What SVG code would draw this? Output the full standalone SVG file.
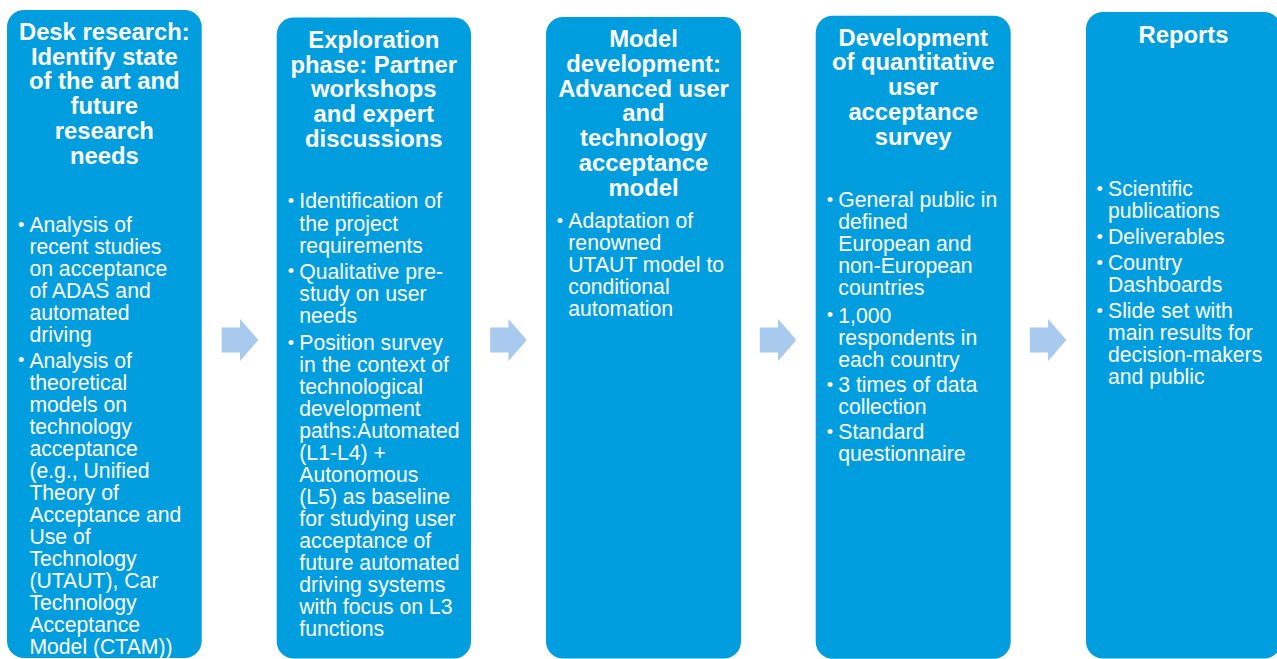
<svg xmlns="http://www.w3.org/2000/svg" xmlns:xlink="http://www.w3.org/1999/xlink" width="1277" height="659" viewBox="0 0 1277 659">
<style>
.box{fill:#019EDF}
.t{font-family:"Liberation Sans",Arial,sans-serif;font-weight:bold;font-size:23.8px;fill:#fff;text-anchor:middle}
.b{font-family:"Liberation Sans",Arial,sans-serif;font-size:21.2px;fill:#fff}
.d{font-family:"Liberation Sans",Arial,sans-serif;font-size:18px;fill:#fff}
.arr{fill:#A8CAEE}
</style>
<defs>
<polygon id="arrow" class="arr" points="0,-12.5 18.3,-12.5 18.3,-21 36.6,0 18.3,21 18.3,12.5 0,12.5"/>
</defs>
<rect width="1277" height="659" fill="#fff"/>
<g id="connectors">
<use xlink:href="#arrow" href="#arrow" x="221.7" y="340"/>
<use xlink:href="#arrow" href="#arrow" x="490.2" y="340"/>
<use xlink:href="#arrow" href="#arrow" x="759.8" y="340"/>
<use xlink:href="#arrow" href="#arrow" x="1029.8" y="340"/>
</g>
<g id="node1">
<rect class="box" x="7" y="10" width="194.7" height="648" rx="17"/>
<text class="t"><tspan x="104.3" y="40">Desk research:</tspan><tspan x="104.3" y="64.7">Identify state</tspan><tspan x="104.3" y="89.4">of the art and</tspan><tspan x="104.3" y="114.1">future</tspan><tspan x="104.3" y="138.8">research</tspan><tspan x="104.3" y="163.5">needs</tspan></text>
<text class="d"><tspan x="17.9" y="230.7">•</tspan><tspan x="17.9" y="366.4">•</tspan></text>
<text class="b"><tspan x="29.4" y="232">Analysis of</tspan><tspan x="29.4" y="254">recent studies</tspan><tspan x="29.4" y="276">on acceptance</tspan><tspan x="29.4" y="298">of ADAS and</tspan><tspan x="29.4" y="320">automated</tspan><tspan x="29.4" y="342">driving</tspan><tspan x="29.4" y="367.7">Analysis of</tspan><tspan x="29.4" y="389.7">theoretical</tspan><tspan x="29.4" y="411.7">models on</tspan><tspan x="29.4" y="433.7">technology</tspan><tspan x="29.4" y="455.7">acceptance</tspan><tspan x="29.4" y="477.7">(e.g., Unified</tspan><tspan x="29.4" y="499.7">Theory of</tspan><tspan x="29.4" y="521.7">Acceptance and</tspan><tspan x="29.4" y="543.7">Use of</tspan><tspan x="29.4" y="565.7">Technology</tspan><tspan x="29.4" y="587.7">(UTAUT), Car</tspan><tspan x="29.4" y="609.7">Technology</tspan><tspan x="29.4" y="631.7">Acceptance</tspan><tspan x="29.4" y="653.7">Model (CTAM))</tspan></text>
</g>
<g id="node2">
<rect class="box" x="276.7" y="17.5" width="194.3" height="641" rx="17"/>
<text class="t"><tspan x="373.8" y="48">Exploration</tspan><tspan x="373.8" y="72.7">phase: Partner</tspan><tspan x="373.8" y="97.4">workshops</tspan><tspan x="373.8" y="122.1">and expert</tspan><tspan x="373.8" y="146.8">discussions</tspan></text>
<text class="d"><tspan x="287.8" y="207">•</tspan><tspan x="287.8" y="277.4">•</tspan><tspan x="287.8" y="348.7">•</tspan></text>
<text class="b"><tspan x="299.3" y="208.3">Identification of</tspan><tspan x="299.3" y="230.5">the project</tspan><tspan x="299.3" y="252.5">requirements</tspan><tspan x="299.3" y="278.7">Qualitative pre-</tspan><tspan x="299.3" y="300.7">study on user</tspan><tspan x="299.3" y="322.7">needs</tspan><tspan x="299.3" y="350">Position survey</tspan><tspan x="299.3" y="372">in the context of</tspan><tspan x="299.3" y="394">technological</tspan><tspan x="299.3" y="416">development</tspan><tspan x="299.3" y="438">paths:Automated</tspan><tspan x="299.3" y="460">(L1-L4) +</tspan><tspan x="299.3" y="482">Autonomous</tspan><tspan x="299.3" y="504">(L5) as baseline</tspan><tspan x="299.3" y="526">for studying user</tspan><tspan x="299.3" y="548">acceptance of</tspan><tspan x="299.3" y="570">future automated</tspan><tspan x="299.3" y="592">driving systems</tspan><tspan x="299.3" y="614">with focus on L3</tspan><tspan x="299.3" y="636">functions</tspan></text>
</g>
<g id="node3">
<rect class="box" x="546" y="17" width="195" height="641.5" rx="17"/>
<text class="t"><tspan x="643.5" y="47.3">Model</tspan><tspan x="643.5" y="72">development:</tspan><tspan x="643.5" y="96.7">Advanced user</tspan><tspan x="643.5" y="121.4">and</tspan><tspan x="643.5" y="146.1">technology</tspan><tspan x="643.5" y="170.8">acceptance</tspan><tspan x="643.5" y="195.5">model</tspan></text>
<text class="d"><tspan x="556.8" y="227">•</tspan></text>
<text class="b"><tspan x="568.3" y="228.3">Adaptation of</tspan><tspan x="568.3" y="250.3">renowned</tspan><tspan x="568.3" y="272.3">UTAUT model to</tspan><tspan x="568.3" y="294.3">conditional</tspan><tspan x="568.3" y="316.3">automation</tspan></text>
</g>
<g id="node4">
<rect class="box" x="815.7" y="15.7" width="195" height="643" rx="17"/>
<text class="t"><tspan x="913.2" y="45.7">Development</tspan><tspan x="913.2" y="70.4">of quantitative</tspan><tspan x="913.2" y="95.1">user</tspan><tspan x="913.2" y="119.8">acceptance</tspan><tspan x="913.2" y="144.5">survey</tspan></text>
<text class="d"><tspan x="826.8" y="206">•</tspan><tspan x="826.8" y="321.4">•</tspan><tspan x="826.8" y="391">•</tspan><tspan x="826.8" y="437.7">•</tspan></text>
<text class="b"><tspan x="838.3" y="207.3">General public in</tspan><tspan x="838.3" y="229.3">defined</tspan><tspan x="838.3" y="251.3">European and</tspan><tspan x="838.3" y="273.3">non-European</tspan><tspan x="838.3" y="295.3">countries</tspan><tspan x="838.3" y="322.7">1,000</tspan><tspan x="838.3" y="344.7">respondents in</tspan><tspan x="838.3" y="366.7">each country</tspan><tspan x="838.3" y="392.3">3 times of data</tspan><tspan x="838.3" y="414.3">collection</tspan><tspan x="838.3" y="439">Standard</tspan><tspan x="838.3" y="461">questionnaire</tspan></text>
</g>
<g id="node5">
<rect class="box" x="1086" y="12" width="195" height="646.5" rx="17"/>
<text class="t"><tspan x="1183.5" y="42.7">Reports</tspan></text>
<text class="d"><tspan x="1096.5" y="194.7">•</tspan><tspan x="1096.5" y="242.7">•</tspan><tspan x="1096.5" y="268.7">•</tspan><tspan x="1096.5" y="316.7">•</tspan></text>
<text class="b"><tspan x="1108" y="196">Scientific</tspan><tspan x="1108" y="218">publications</tspan><tspan x="1108" y="244">Deliverables</tspan><tspan x="1108" y="270">Country</tspan><tspan x="1108" y="292">Dashboards</tspan><tspan x="1108" y="318">Slide set with</tspan><tspan x="1108" y="340">main results for</tspan><tspan x="1108" y="362">decision-makers</tspan><tspan x="1108" y="384">and public</tspan></text>
</g>
</svg>
